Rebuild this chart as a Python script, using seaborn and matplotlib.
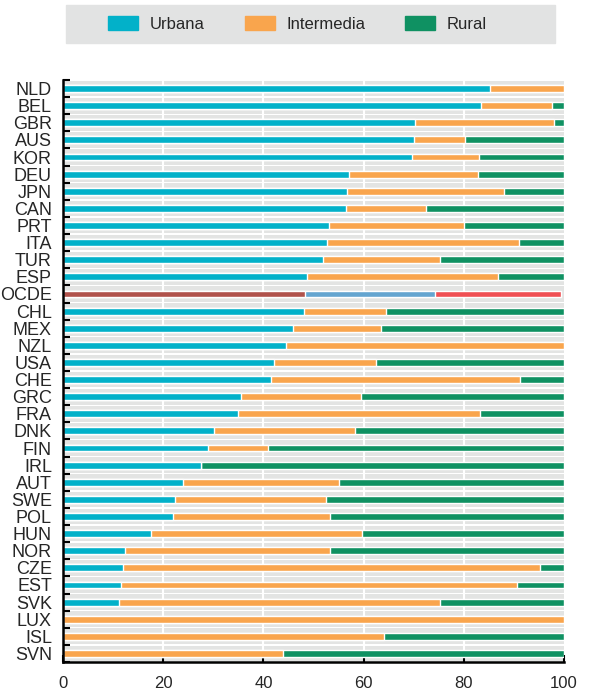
import pandas as pd
import matplotlib.pyplot as plt
import seaborn as sns
from matplotlib.patches import Patch, Rectangle
from matplotlib.ticker import FixedLocator

paises = ["NLD", "BEL", "GBR", "AUS", "KOR", "DEU", "JPN", "CAN", "PRT", "ITA",
          "TUR", "ESP", "OCDE", "CHL", "MEX", "NZL", "USA", "CHE", "GRC", "FRA",
          "DNK", "FIN", "IRL", "AUT", "SWE", "POL", "HUN", "NOR", "CZE", "EST",
          "SVK", "LUX", "ISL", "SVN"]
urbana = [85.2, 83.4, 70.2, 70.0, 69.7, 57.1, 56.6, 56.5, 53.1, 52.7,
          51.8, 48.7, 48.3, 48.1, 46.0, 44.6, 42.1, 41.5, 35.5, 34.9,
          30.2, 28.9, 27.5, 24.0, 22.4, 22.0, 17.6, 12.4, 12.0, 11.6,
          11.2, 0.0, 0.0, 0.0]
intermedia = [14.8, 14.2, 27.9, 10.2, 13.3, 25.7, 31.5, 16.0, 26.9, 38.4,
              23.4, 38.1, 26.0, 16.4, 17.5, 55.4, 20.4, 49.7, 24.0, 48.3,
              28.1, 12.1, 0.0, 31.1, 30.0, 31.2, 42.1, 40.8, 83.3, 79.0,
              64.0, 100.0, 64.1, 43.9]
rural = [0.0, 2.4, 1.9, 19.8, 17.0, 17.2, 11.9, 27.5, 20.0, 8.9,
         24.8, 13.2, 25.1, 35.5, 36.5, 0.0, 37.5, 8.8, 40.5, 16.8,
         41.7, 59.0, 72.5, 44.9, 47.6, 46.8, 40.3, 46.8, 4.7, 9.4,
         24.8, 0.0, 35.9, 56.1]

c_urb, c_int, c_rur = "#02b1c9", "#f9a54d", "#0f9162"
c_oecd = ("#b0524b", "#64a5d0", "#f04f53")

df = pd.DataFrame({"pais": paises, "urbana": urbana,
                   "intermedia": intermedia, "rural": rural})
df["c1"] = df["urbana"]
df["c2"] = df["urbana"] + df["intermedia"]
df["c3"] = df["c2"] + df["rural"]

def pal(col, oecd_col):
    return {p: (oecd_col if p == "OCDE" else col) for p in paises}

sns.set_style("white")
plt.rcParams["font.family"] = ["Liberation Sans", "DejaVu Sans"]

fig = plt.figure(figsize=(5.95, 6.99), dpi=100)
ax = fig.add_axes([63 / 595, 1 - 662 / 699, 501 / 595, 582 / 699])

# bandas grises de fondo y lineas blancas
for i in range(len(paises)):
    ax.axhspan(i - 0.46, i + 0.46, xmin=0, xmax=1, color="#e3e4e3", lw=0, zorder=0)
for x in [20, 40, 60, 80]:
    ax.axvline(x, color="white", lw=1.5, zorder=0.5)

sns.barplot(data=df, x="c3", y="pais", hue="pais", palette=pal(c_rur, c_oecd[2]),
            width=0.4, saturation=1, legend=False, ax=ax, orient="h")
sns.barplot(data=df, x="c2", y="pais", hue="pais", palette=pal(c_int, c_oecd[1]),
            width=0.4, saturation=1, legend=False, ax=ax, orient="h")
sns.barplot(data=df, x="c1", y="pais", hue="pais", palette=pal(c_urb, c_oecd[0]),
            width=0.4, saturation=1, legend=False, ax=ax, orient="h")

ax.set_xlim(0, 100)
ax.set_ylim(len(paises) - 0.5, -0.5)
ax.set_xlabel("")
ax.set_ylabel("")
ax.set_xticks([0, 20, 40, 60, 80, 100])
ax.tick_params(axis="x", direction="in", length=5, width=1.5, pad=10,
               labelsize=12, color="black", bottom=True)
ax.tick_params(axis="y", which="major", length=0, pad=8, labelsize=13)
ax.yaxis.set_minor_locator(FixedLocator([i - 0.5 for i in range(len(paises) + 1)]))
ax.tick_params(axis="y", which="minor", direction="in", length=5, width=1.5,
               color="black", left=True)
for s in ["top", "right"]:
    ax.spines[s].set_visible(False)
for s in ["left", "bottom"]:
    ax.spines[s].set_color("black")
    ax.spines[s].set_linewidth(1.8)

fig.patches.append(Rectangle((66 / 595, 1 - 43 / 699), 489 / 595, 38 / 699,
                             transform=fig.transFigure, color="#e2e3e3", zorder=0))
handles = [Patch(color=c_urb, label="Urbana"), Patch(color=c_int, label="Intermedia"),
           Patch(color=c_rur, label="Rural")]
fig.legend(handles=handles, loc="center", bbox_to_anchor=(0.50, 1 - 24 / 699),
           ncol=3, frameon=False, fontsize=12, handlelength=1.8, handleheight=0.9,
           handletextpad=0.7, columnspacing=2.4)

fig.savefig("out.png", dpi=100)
